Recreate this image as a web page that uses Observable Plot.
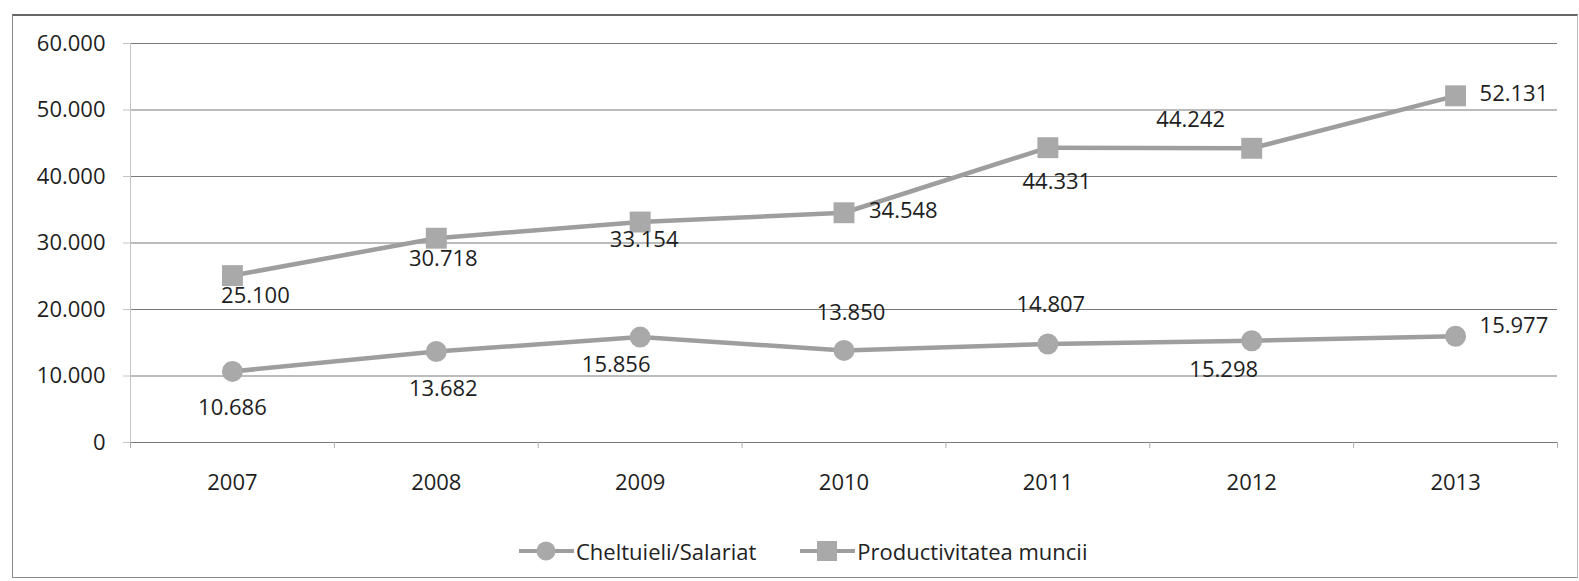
<!DOCTYPE html>
<html>
<head>
<meta charset="utf-8">
<script src="https://cdn.jsdelivr.net/npm/d3@7"></script>
<script src="https://cdn.jsdelivr.net/npm/@observablehq/plot@0.6"></script>
<style>
  html, body { margin: 0; padding: 0; background: #fff; }
  body { width: 1579px; height: 581px; position: relative; overflow: hidden; font-family: "Open Sans", sans-serif; }
  #box { position: absolute; left: 12px; top: 14px; width: 1564px; height: 561px; border: 1px solid #8a8a8a; border-top: 2px solid #666; border-right-color: #bbb; }
  #legend { position: absolute; left: 506px; top: 520px; display: flex; align-items: center; font-size: 22px; color: #222; white-space: nowrap; }
  .item { display: flex; align-items: center; }
  .item svg { margin-right: 2px; }
</style>
</head>
<body>
<div id="box">
  <div id="chart"></div>
  <div id="legend"></div>
</div>
<script>
// ---- data ----
const years = [2007, 2008, 2009, 2010, 2011, 2012, 2013];
const cheltuieli = [10686, 13682, 15856, 13850, 14807, 15298, 15977];
const productivitate = [25100, 30718, 33154, 34548, 44331, 44242, 52131];
const seriesNames = ["Cheltuieli/Salariat", "Productivitatea muncii"];
const yTicks = [0, 10000, 20000, 30000, 40000, 50000, 60000];

// ---- label placement (styling) ----
const placeCh = [
  {dx: 0, dy: 37}, {dx: 7, dy: 37}, {dx: -24, dy: 28}, {dx: 7, dy: -37},
  {dx: 3, dy: -39}, {dx: -28, dy: 29}, {dx: 24, dy: -10, anchor: "start"}
];
const placePr = [
  {dx: 23, dy: 20}, {dx: 7, dy: 21}, {dx: 4, dy: 18}, {dx: 25, dy: -2, anchor: "start"},
  {dx: 9, dy: 34}, {dx: -61, dy: -28}, {dx: 24, dy: -2, anchor: "start"}
];

const loc = d3.formatLocale({decimal: ",", thousands: ".", grouping: [3], currency: ["", ""]});
const fmt = loc.format(",d");

const rowsCh = years.map((yr, i) => ({year: yr, value: cheltuieli[i], series: seriesNames[0]}));
const rowsPr = years.map((yr, i) => ({year: yr, value: productivitate[i], series: seriesNames[1]}));
const boundaries = d3.range(years.length + 1).map(i => years[0] - 0.5 + i);

const lineColor = "#9e9e9e";
const markColor = "#a9a9a9";
const txt = "#1e1e1e";

function labels(rows, places) {
  return rows.map((r, i) => Plot.text([r], {
    x: "year", y: "value", text: d => fmt(d.value),
    dx: places[i].dx, dy: places[i].dy,
    textAnchor: places[i].anchor || "middle",
    fill: txt, fontSize: 22
  }));
}

const chart = Plot.plot({
  width: 1564,
  height: 488,
  marginLeft: 117,
  marginRight: 20,
  marginTop: 27,
  marginBottom: 62,
  style: {fontFamily: "'Open Sans', sans-serif", fontSize: "22px", color: txt, background: "transparent"},
  x: {type: "linear", domain: [d3.min(years) - 0.5, d3.max(years) + 0.5], label: null},
  y: {domain: [0, 60000], label: null},
  marks: [
    Plot.gridY(yTicks, {stroke: "#7a7a7a", strokeOpacity: 1, strokeWidth: 1.2}),
    Plot.frame({anchor: "left", stroke: "#c4c4c4"}),
    Plot.axisY(yTicks, {tickSize: 7, tickPadding: 18, tickFormat: fmt, stroke: "#c4c4c4", fontSize: 22, fill: txt}),
    Plot.axisX(boundaries, {tickSize: 6, tickFormat: () => "", stroke: "#b0b0b0"}),
    Plot.axisX(years, {tickSize: 0, tickPadding: 32, tickFormat: d => String(d), fontSize: 22, fill: txt}),
    Plot.lineY(rowsCh, {x: "year", y: "value", stroke: lineColor, strokeWidth: 4.5}),
    Plot.lineY(rowsPr, {x: "year", y: "value", stroke: lineColor, strokeWidth: 4.5}),
    Plot.dot(rowsCh, {x: "year", y: "value", r: 10.5, fill: markColor, stroke: "none"}),
    Plot.dot(rowsPr, {x: "year", y: "value", r: 11.8, symbol: "square", fill: markColor, stroke: "none"}),
    ...labels(rowsCh, placeCh),
    ...labels(rowsPr, placePr)
  ]
});
document.getElementById("chart").appendChild(chart);

// ---- legend ----
const legend = document.getElementById("legend");
seriesNames.forEach((name, i) => {
  const item = document.createElement("div");
  item.className = "item";
  if (i > 0) item.style.marginLeft = "44px";
  const shape = i === 0
    ? `<circle cx="27" cy="15" r="9.5" fill="${markColor}"/>`
    : `<rect x="17" y="5" width="20" height="20" fill="${markColor}"/>`;
  item.innerHTML = `<svg width="55" height="30"><line x1="0" y1="15" x2="55" y2="15" stroke="${lineColor}" stroke-width="4"/>${shape}</svg><span>${name}</span>`;
  legend.appendChild(item);
});
</script>
</body>
</html>
